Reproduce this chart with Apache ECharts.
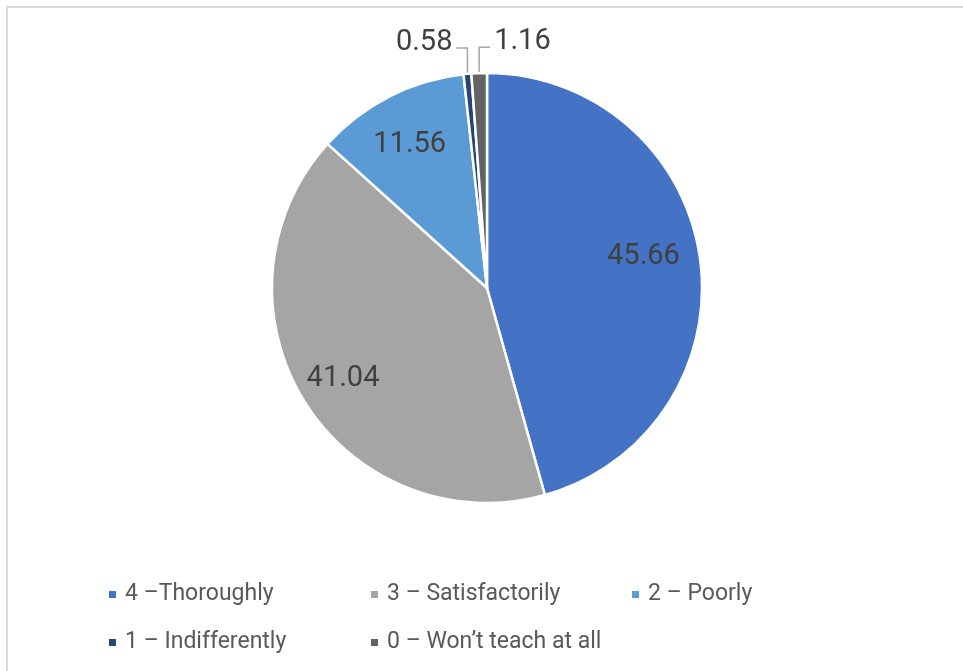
<!DOCTYPE html>
<html>
<head>
<meta charset="utf-8">
<script src="https://cdn.jsdelivr.net/npm/echarts@6/dist/echarts.min.js"></script>
<style>
  html, body { margin: 0; padding: 0; background: #fff; }
  #chart { width: 963px; height: 671px; }
</style>
</head>
<body>
<div id="chart"></div>
<script>
// 数据
const categories = ['4 –Thoroughly', '3 – Satisfactorily', '2 – Poorly', '1 – Indifferently', '0 – Won’t teach at all']
const values = [45.66, 41.04, 11.56, 0.58, 1.16]
const colors = ['#4472C4', '#A5A5A5', '#5B9BD5', '#264478', '#636363']

// label nudges for the inside labels (Excel puts them further out)
const insideOffsets = [[47, -16], [-50, 33], [-27, -45]]

const fontFamily = 'Roboto, "Open Sans", sans-serif'

const chart = echarts.init(document.getElementById('chart'))

const pieData = values.map((v, i) => {
  const item = { name: categories[i], value: v, itemStyle: { color: colors[i] } }
  if (i < 3) {
    item.label = { position: 'inside', offset: insideOffsets[i] }
    item.labelLine = { show: false }
  } else {
    item.label = { position: 'outside' }
    item.labelLine = { show: true }
  }
  return item
})

// one legend per item so the columns line up like Excel's
const legendPos = [[102, 578], [364, 578], [625, 578], [102, 626], [364, 626]]
const legends = categories.map((name, i) => ({
  data: [name],
  left: legendPos[i][0],
  top: legendPos[i][1],
  orient: 'horizontal',
  icon: 'rect',
  itemWidth: 9,
  itemHeight: 9,
  itemGap: 0,
  selectedMode: false,
  textStyle: { color: '#595959', fontSize: 23, fontFamily: fontFamily, padding: [0, 0, 0, 3] }
}))

const option = {
  backgroundColor: '#fff',
  animation: false,
  graphic: [{
    type: 'rect',
    shape: { x: 7, y: 7, width: 1000, height: 1000 },
    style: { fill: 'none', stroke: '#D9D9D9', lineWidth: 2 },
    silent: true
  }],
  legend: legends,
  series: [{
    type: 'pie',
    center: [487, 288],
    radius: 215,
    startAngle: 90,
    clockwise: true,
    avoidLabelOverlap: false,
    itemStyle: { borderColor: '#fff', borderWidth: 2.5 },
    label: {
      show: true,
      formatter: '{c}',
      color: '#404040',
      fontSize: 29,
      fontFamily: fontFamily
    },
    labelLine: {
      lineStyle: { color: '#A6A6A6', width: 1.5 }
    },
    labelLayout: function (params) {
      if (params.dataIndex < 3 || !params.labelLinePoints) return {}
      const p0 = params.labelLinePoints[0]
      const top = p0[1] - 26
      const dir = params.dataIndex === 3 ? -1 : 1
      const x2 = p0[0] + dir * 11
      return {
        x: x2 + dir * 4,
        y: top - 5,
        align: dir < 0 ? 'right' : 'left',
        verticalAlign: 'middle',
        labelLinePoints: [[p0[0], p0[1]], [p0[0], top], [x2, top]]
      }
    },
    data: pieData
  }]
}

chart.setOption(option)
</script>
</body>
</html>
